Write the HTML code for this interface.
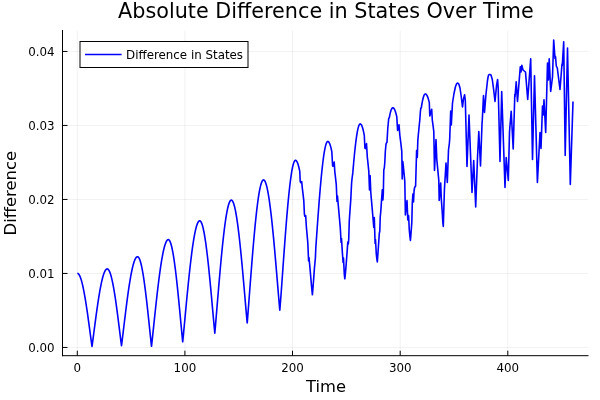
<!DOCTYPE html>
<html lang="en"><head><meta charset="utf-8"><title>Absolute Difference in States Over Time</title>
<style>html,body{margin:0;padding:0;background:#fff;overflow:hidden}svg{display:block}</style></head>
<body>
<svg width="600" height="400" viewBox="0 0 600 400">
<rect x="0" y="0" width="600" height="400" fill="#fff"/>
<g stroke="#000" stroke-opacity="0.1" stroke-width="0.55" fill="none"><line x1="77.3" y1="30.7" x2="77.3" y2="355.7"/><line x1="184.9" y1="30.7" x2="184.9" y2="355.7"/><line x1="292.5" y1="30.7" x2="292.5" y2="355.7"/><line x1="400.2" y1="30.7" x2="400.2" y2="355.7"/><line x1="507.8" y1="30.7" x2="507.8" y2="355.7"/><line x1="62.5" y1="347.45" x2="588.5" y2="347.45"/><line x1="62.5" y1="273.45" x2="588.5" y2="273.45"/><line x1="62.5" y1="199.45" x2="588.5" y2="199.45"/><line x1="62.5" y1="125.45" x2="588.5" y2="125.45"/><line x1="62.5" y1="51.45" x2="588.5" y2="51.45"/></g>
<g stroke="#000" stroke-width="1" fill="none"><line x1="62.5" y1="30.0" x2="62.5" y2="356.2"/><line x1="62.0" y1="355.7" x2="588.5" y2="355.7"/><line x1="77.3" y1="355.7" x2="77.3" y2="350.7"/><line x1="184.9" y1="355.7" x2="184.9" y2="350.7"/><line x1="292.5" y1="355.7" x2="292.5" y2="350.7"/><line x1="400.2" y1="355.7" x2="400.2" y2="350.7"/><line x1="507.8" y1="355.7" x2="507.8" y2="350.7"/><line x1="62.5" y1="347.45" x2="67.5" y2="347.45"/><line x1="62.5" y1="273.45" x2="67.5" y2="273.45"/><line x1="62.5" y1="199.45" x2="67.5" y2="199.45"/><line x1="62.5" y1="125.45" x2="67.5" y2="125.45"/><line x1="62.5" y1="51.45" x2="67.5" y2="51.45"/></g>
<path d="M77.30,273.30 L77.80,273.41 L78.30,273.73 L78.80,274.27 L79.30,275.03 L79.80,275.99 L80.30,277.17 L80.80,278.55 L81.30,280.13 L81.80,281.90 L82.30,283.86 L82.80,286.01 L83.30,288.33 L83.80,290.82 L84.30,293.48 L84.80,296.28 L85.30,299.22 L85.80,302.30 L86.30,305.50 L86.80,308.81 L87.30,312.23 L87.80,315.72 L88.30,319.30 L88.80,322.94 L89.30,326.62 L89.80,330.34 L90.30,334.07 L90.80,337.79 L91.30,341.48 L91.80,345.06 L92.00,346.40 L92.30,344.31 L92.80,340.61 L93.30,336.82 L93.80,333.00 L94.30,329.18 L94.80,325.37 L95.30,321.59 L95.80,317.86 L96.30,314.19 L96.80,310.59 L97.30,307.08 L97.80,303.67 L98.30,300.36 L98.80,297.18 L99.30,294.12 L99.80,291.20 L100.30,288.43 L100.80,285.82 L101.30,283.37 L101.80,281.09 L102.30,278.99 L102.80,277.07 L103.30,275.35 L103.80,273.82 L104.30,272.49 L104.80,271.36 L105.30,270.45 L105.80,269.74 L106.30,269.25 L106.80,268.97 L107.20,268.90 L107.30,268.90 L107.80,269.07 L108.30,269.48 L108.80,270.13 L109.30,271.01 L109.80,272.13 L110.30,273.48 L110.80,275.05 L111.30,276.85 L111.80,278.86 L112.30,281.07 L112.80,283.48 L113.30,286.09 L113.80,288.88 L114.30,291.84 L114.80,294.96 L115.30,298.23 L115.80,301.65 L116.30,305.19 L116.80,308.84 L117.30,312.60 L117.80,316.44 L118.30,320.36 L118.80,324.33 L119.30,328.34 L119.80,332.37 L120.30,336.39 L120.80,340.38 L121.30,344.25 L121.50,345.70 L121.80,343.42 L122.30,339.39 L122.80,335.27 L123.30,331.11 L123.80,326.93 L124.30,322.77 L124.80,318.64 L125.30,314.55 L125.80,310.51 L126.30,306.55 L126.80,302.67 L127.30,298.89 L127.80,295.21 L128.30,291.65 L128.80,288.21 L129.30,284.91 L129.80,281.76 L130.30,278.76 L130.80,275.93 L131.30,273.26 L131.80,270.77 L132.30,268.47 L132.80,266.36 L133.30,264.44 L133.80,262.73 L134.30,261.23 L134.80,259.93 L135.30,258.85 L135.80,257.99 L136.30,257.34 L136.80,256.92 L137.30,256.72 L137.50,256.70 L137.80,256.75 L138.30,257.08 L138.80,257.69 L139.30,258.59 L139.80,259.78 L140.30,261.26 L140.80,263.01 L141.30,265.03 L141.80,267.31 L142.30,269.85 L142.80,272.64 L143.30,275.66 L143.80,278.91 L144.30,282.37 L144.80,286.04 L145.30,289.89 L145.80,293.92 L146.30,298.10 L146.80,302.43 L147.30,306.89 L147.80,311.45 L148.30,316.11 L148.80,320.83 L149.30,325.61 L149.80,330.41 L150.30,335.20 L150.80,339.95 L151.30,344.57 L151.50,346.30 L151.80,343.71 L152.30,339.11 L152.80,334.41 L153.30,329.66 L153.80,324.89 L154.30,320.14 L154.80,315.41 L155.30,310.72 L155.80,306.09 L156.30,301.53 L156.80,297.05 L157.30,292.67 L157.80,288.40 L158.30,284.25 L158.80,280.23 L159.30,276.35 L159.80,272.62 L160.30,269.05 L160.80,265.65 L161.30,262.43 L161.80,259.39 L162.30,256.55 L162.80,253.91 L163.30,251.48 L163.80,249.26 L164.30,247.26 L164.80,245.48 L165.30,243.93 L165.80,242.62 L166.30,241.53 L166.80,240.69 L167.30,240.08 L167.80,239.72 L168.30,239.60 L168.80,239.76 L169.30,240.23 L169.80,241.02 L170.30,242.12 L170.80,243.52 L171.30,245.23 L171.80,247.24 L172.30,249.54 L172.80,252.12 L173.30,254.97 L173.80,258.09 L174.30,261.47 L174.80,265.08 L175.30,268.93 L175.80,272.99 L176.30,277.26 L176.80,281.71 L177.30,286.34 L177.80,291.12 L178.30,296.05 L178.80,301.09 L179.30,306.23 L179.80,311.46 L180.30,316.74 L180.80,322.06 L181.30,327.38 L181.80,332.67 L182.30,337.87 L182.70,341.80 L182.80,340.87 L183.30,335.83 L183.80,330.60 L184.30,325.29 L184.80,319.95 L185.30,314.62 L185.80,309.30 L186.30,304.02 L186.80,298.79 L187.30,293.64 L187.80,288.58 L188.30,283.61 L188.80,278.75 L189.30,274.03 L189.80,269.44 L190.30,265.00 L190.80,260.72 L191.30,256.61 L191.80,252.69 L192.30,248.95 L192.80,245.42 L193.30,242.09 L193.80,238.99 L194.30,236.10 L194.80,233.45 L195.30,231.04 L195.80,228.87 L196.30,226.95 L196.80,225.29 L197.30,223.88 L197.80,222.73 L198.30,221.85 L198.80,221.23 L199.30,220.89 L199.70,220.80 L199.80,220.81 L200.30,221.03 L200.80,221.56 L201.30,222.41 L201.80,223.58 L202.30,225.05 L202.80,226.82 L203.30,228.89 L203.80,231.25 L204.30,233.90 L204.80,236.82 L205.30,240.01 L205.80,243.46 L206.30,247.16 L206.80,251.09 L207.30,255.24 L207.80,259.60 L208.30,264.17 L208.80,268.91 L209.30,273.82 L209.80,278.88 L210.30,284.07 L210.80,289.38 L211.30,294.79 L211.80,300.28 L212.30,305.83 L212.80,311.40 L213.30,316.99 L213.80,322.54 L214.30,328.01 L214.80,333.20 L215.30,327.59 L215.80,321.68 L216.30,315.68 L216.80,309.63 L217.30,303.58 L217.80,297.55 L218.30,291.57 L218.80,285.65 L219.30,279.82 L219.80,274.08 L220.30,268.47 L220.80,262.99 L221.30,257.66 L221.80,252.49 L222.30,247.50 L222.80,242.70 L223.30,238.11 L223.80,233.73 L224.30,229.58 L224.80,225.67 L225.30,222.00 L225.80,218.59 L226.30,215.45 L226.80,212.59 L227.30,210.00 L227.80,207.70 L228.30,205.70 L228.80,204.00 L229.30,202.60 L229.80,201.51 L230.30,200.73 L230.80,200.26 L231.30,200.10 L231.80,200.26 L232.30,200.72 L232.80,201.50 L233.30,202.59 L233.80,203.98 L234.30,205.67 L234.80,207.66 L235.30,209.94 L235.80,212.50 L236.30,215.34 L236.80,218.45 L237.30,221.83 L237.80,225.45 L238.30,229.32 L238.80,233.42 L239.30,237.73 L239.80,242.26 L240.30,246.98 L240.80,251.88 L241.30,256.95 L241.80,262.17 L242.30,267.53 L242.80,273.00 L243.30,278.58 L243.80,284.25 L244.30,289.98 L244.80,295.76 L245.30,301.56 L245.80,307.35 L246.30,313.09 L246.80,318.73 L247.20,323.00 L247.30,321.85 L247.80,315.62 L248.30,309.16 L248.80,302.61 L249.30,296.03 L249.80,289.44 L250.30,282.89 L250.80,276.40 L251.30,269.98 L251.80,263.67 L252.30,257.47 L252.80,251.40 L253.30,245.49 L253.80,239.75 L254.30,234.20 L254.80,228.84 L255.30,223.71 L255.80,218.80 L256.30,214.14 L256.80,209.73 L257.30,205.59 L257.80,201.73 L258.30,198.15 L258.80,194.87 L259.30,191.90 L259.80,189.25 L260.30,186.91 L260.80,184.91 L261.30,183.23 L261.80,181.89 L262.30,180.89 L262.80,180.24 L263.30,179.93 L263.50,179.90 L263.80,179.96 L264.30,180.30 L264.80,180.96 L265.30,181.93 L265.80,183.21 L266.30,184.80 L266.80,186.69 L267.30,188.87 L267.80,191.35 L268.30,194.11 L268.80,197.15 L269.30,200.46 L269.80,204.02 L270.30,207.84 L270.80,211.91 L271.30,216.20 L271.80,220.71 L272.30,225.43 L272.80,230.34 L273.30,235.43 L273.80,240.69 L274.30,246.10 L274.80,251.65 L275.30,257.32 L275.80,263.09 L276.30,268.95 L276.80,274.87 L277.30,280.84 L277.80,286.84 L278.30,292.83 L278.80,298.78 L279.30,304.64 L279.80,310.20 L280.30,304.30 L280.80,297.75 L281.30,290.95 L281.80,284.02 L282.30,277.02 L282.80,270.00 L283.30,262.99 L283.80,256.04 L284.30,249.17 L284.80,242.40 L285.30,235.78 L285.80,229.30 L286.30,223.01 L286.80,216.93 L287.30,211.06 L287.80,205.44 L288.30,200.09 L288.80,195.01 L289.30,190.22 L289.80,185.75 L290.30,181.60 L290.80,177.79 L291.30,174.33 L291.80,171.24 L292.30,168.51 L292.80,166.16 L293.30,164.20 L293.80,162.63 L294.30,161.47 L294.80,160.70 L295.30,160.33 L295.50,160.30 L295.80,160.36 L296.30,160.70 L296.80,161.36 L297.30,162.33 L297.80,163.60 L298.30,165.18 L298.80,167.07 L299.30,169.24 L299.80,171.71 L300.20,181.30 L300.60,182.60 L301.70,181.60 L302.30,188.13 L302.80,192.17 L303.30,196.43 L303.80,200.91 L304.40,214.00 L304.80,216.30 L305.70,215.60 L306.30,226.07 L306.80,231.55 L307.30,237.14 L307.80,242.82 L308.60,261.00 L309.00,257.50 L309.80,266.09 L310.30,271.92 L310.80,277.69 L311.30,283.36 L311.80,288.85 L312.30,293.94 L312.40,294.80 L312.80,290.26 L313.30,283.73 L313.80,276.84 L314.30,269.74 L315.00,262.00 L315.40,258.00 L315.80,247.99 L316.30,240.75 L316.80,233.57 L317.30,226.50 L317.80,219.55 L318.30,212.76 L318.80,206.15 L319.30,199.76 L319.80,193.60 L320.30,187.70 L320.80,182.07 L321.30,176.74 L321.80,171.73 L322.30,167.06 L322.80,162.73 L323.30,158.77 L323.80,155.19 L324.30,152.00 L324.80,149.22 L325.30,146.85 L325.80,144.90 L326.30,143.37 L326.80,142.28 L327.30,141.62 L327.80,141.40 L328.30,141.56 L328.80,142.04 L329.30,142.85 L329.80,143.97 L330.30,145.41 L330.80,147.16 L331.30,149.21 L331.80,151.57 L332.60,165.60 L333.00,166.20 L334.20,162.00 L334.80,171.60 L335.30,175.83 L335.80,180.29 L336.30,184.95 L337.00,201.50 L337.50,196.00 L338.30,205.46 L338.80,210.96 L339.30,216.59 L339.80,222.31 L340.30,228.11 L341.10,242.50 L341.50,238.50 L342.30,251.65 L343.10,262.50 L343.50,258.00 L344.30,274.13 L344.80,278.80 L345.30,274.45 L345.80,268.81 L346.30,262.60 L346.80,256.00 L347.30,249.14 L347.80,242.09 L348.30,244.00 L348.70,240.00 L349.30,220.48 L349.80,213.28 L350.30,206.16 L350.80,199.15 L351.60,183.00 L352.00,179.00 L352.80,172.90 L353.30,166.94 L353.80,161.29 L354.30,155.95 L354.80,150.97 L355.30,146.35 L355.80,142.12 L356.30,138.30 L356.80,134.90 L357.30,131.94 L357.80,129.43 L358.30,127.37 L358.80,125.79 L359.30,124.68 L359.80,124.05 L360.20,123.90 L360.30,123.91 L360.80,124.15 L361.30,124.74 L361.80,125.68 L362.30,126.97 L362.80,128.59 L363.30,130.55 L363.80,132.83 L364.30,135.43 L364.90,148.00 L365.30,148.60 L366.50,143.60 L367.30,157.17 L367.80,161.70 L368.30,166.45 L368.80,171.39 L369.50,190.00 L370.10,175.50 L370.80,192.80 L371.30,198.46 L371.80,204.19 L372.30,209.97 L372.80,215.78 L373.30,221.58 L373.80,227.50 L374.30,217.50 L375.10,243.50 L375.50,239.50 L376.30,254.14 L376.80,258.58 L377.30,262.00 L377.80,255.27 L378.30,248.08 L378.80,240.74 L379.30,233.33 L379.80,231.00 L380.20,217.50 L380.80,211.17 L381.30,203.92 L381.80,196.78 L382.30,189.78 L382.90,200.00 L383.30,194.00 L383.80,169.84 L384.30,168.00 L384.80,162.50 L385.30,151.95 L385.90,145.00 L386.20,143.40 L387.00,142.20 L387.80,127.99 L388.30,123.00 L388.70,118.50 L389.30,117.77 L389.80,115.12 L390.30,112.87 L390.80,111.01 L391.30,109.57 L391.80,108.53 L392.30,107.91 L392.80,107.70 L393.30,107.85 L393.80,108.28 L394.30,109.01 L394.80,110.02 L395.30,111.31 L395.80,112.89 L396.30,114.75 L396.80,116.87 L397.60,130.50 L399.00,124.80 L399.80,135.00 L400.30,138.83 L400.80,142.88 L401.30,147.13 L401.80,151.56 L402.20,179.00 L402.80,161.50 L403.30,165.84 L403.80,170.88 L404.30,176.05 L404.80,181.31 L405.40,215.00 L407.00,200.50 L407.80,220.00 L408.60,215.50 L409.30,230.09 L409.80,235.10 L410.30,239.66 L410.40,240.40 L410.80,235.90 L411.30,229.43 L411.80,222.61 L412.30,203.00 L412.90,194.00 L413.50,202.00 L414.10,190.50 L414.60,187.50 L415.60,186.00 L416.60,150.50 L417.30,157.50 L417.80,140.92 L418.40,134.00 L418.80,130.00 L419.30,124.76 L419.80,120.01 L420.40,111.50 L420.80,108.00 L421.30,107.95 L421.80,104.71 L422.30,101.87 L422.80,99.45 L423.30,97.46 L423.80,95.91 L424.30,94.79 L424.80,94.12 L425.30,93.90 L425.80,94.04 L426.30,94.45 L426.80,95.15 L427.30,96.11 L427.80,97.35 L428.30,98.86 L428.80,100.64 L429.30,102.67 L429.80,116.00 L431.70,109.20 L432.30,120.03 L432.80,123.71 L433.30,127.59 L433.80,131.67 L434.50,170.50 L436.00,139.50 L436.80,159.55 L437.30,164.64 L437.80,169.83 L438.30,175.09 L438.80,180.40 L439.20,200.50 L440.70,183.00 L441.30,199.00 L442.30,213.00 L442.80,222.27 L443.30,226.50 L444.40,190.00 L446.00,163.00 L447.30,182.50 L448.50,150.00 L449.40,143.00 L449.70,139.00 L450.70,111.00 L451.30,125.00 L452.50,103.00 L454.00,93.50 L455.50,86.50 L456.70,83.60 L457.70,83.00 L458.70,83.80 L460.00,88.00 L461.30,97.00 L462.50,107.00 L463.50,99.00 L464.60,94.80 L465.30,100.00 L467.00,166.50 L469.00,115.00 L472.00,192.50 L473.70,160.50 L475.70,207.00 L477.50,158.00 L478.80,131.50 L480.50,166.00 L482.00,124.00 L482.30,120.00 L483.50,95.50 L484.50,112.50 L486.00,94.00 L487.50,80.50 L488.00,77.50 L488.60,75.00 L489.80,74.40 L491.00,75.00 L492.30,79.50 L493.70,90.00 L495.00,101.50 L496.50,86.00 L497.60,79.50 L498.20,88.00 L500.00,161.50 L501.70,91.50 L505.00,187.50 L506.20,157.50 L508.30,180.50 L509.50,132.50 L509.80,128.00 L511.20,111.20 L513.20,149.00 L514.80,94.50 L515.00,97.00 L516.20,81.80 L517.50,101.50 L520.30,66.80 L521.00,72.00 L521.80,65.30 L523.00,70.00 L525.50,72.00 L527.70,99.50 L530.70,58.80 L532.50,159.50 L534.50,75.80 L537.40,182.50 L540.00,132.50 L541.00,148.50 L542.50,106.00 L543.30,115.00 L544.00,99.80 L545.70,132.50 L547.50,63.00 L548.40,80.00 L549.20,58.80 L550.70,91.50 L552.50,77.00 L553.70,40.00 L555.00,58.50 L555.50,56.50 L556.30,66.00 L557.30,68.00 L560.00,89.50 L562.00,64.00 L562.30,65.50 L563.70,41.80 L565.20,155.50 L567.50,48.00 L570.30,184.50 L573.00,101.50" fill="none" stroke="#0000ff" stroke-width="1.6" stroke-linejoin="round" stroke-linecap="butt"/>
<rect x="80.0" y="41.5" width="168" height="26" fill="#fff" stroke="#000" stroke-width="1"/>
<line x1="85.0" y1="54.6" x2="121.6" y2="54.6" stroke="#0000ff" stroke-width="1.5"/>
<g font-family="'DejaVu Sans', 'Liberation Sans', sans-serif" fill="#000">
<text x="126.1" y="59.05" font-size="11.85">Difference in States</text>
<text x="325.9" y="18" font-size="20.74" text-anchor="middle">Absolute Difference in States Over Time</text>
<text x="326" y="392.3" font-size="16.33" text-anchor="middle">Time</text>
<text transform="translate(15.8,193.2) rotate(-90)" font-size="16.4" text-anchor="middle">Difference</text>
<text x="77.3" y="371.9" font-size="11.85" text-anchor="middle">0</text>
<text x="184.9" y="371.9" font-size="11.85" text-anchor="middle">100</text>
<text x="292.5" y="371.9" font-size="11.85" text-anchor="middle">200</text>
<text x="400.2" y="371.9" font-size="11.85" text-anchor="middle">300</text>
<text x="507.8" y="371.9" font-size="11.85" text-anchor="middle">400</text>
<text x="54.5" y="351.90" font-size="11.85" text-anchor="end">0.00</text>
<text x="54.5" y="277.90" font-size="11.85" text-anchor="end">0.01</text>
<text x="54.5" y="203.90" font-size="11.85" text-anchor="end">0.02</text>
<text x="54.5" y="129.90" font-size="11.85" text-anchor="end">0.03</text>
<text x="54.5" y="55.90" font-size="11.85" text-anchor="end">0.04</text>
</g>
</svg>
</body></html>
